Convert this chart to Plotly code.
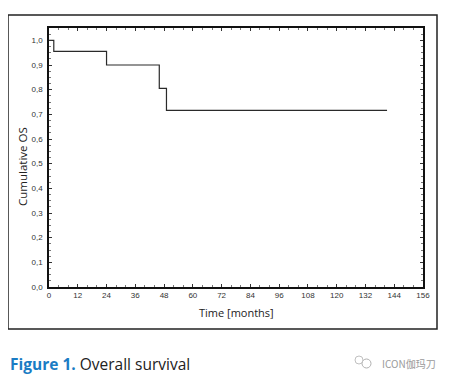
import plotly.graph_objects as go

# Kaplan-Meier step data
time_months = [0, 2, 24, 46, 49, 141]
cumulative_os = [1.0, 0.955, 0.9, 0.805, 0.716, 0.716]

x_ticks = [0, 12, 24, 36, 48, 60, 72, 84, 96, 108, 120, 132, 144, 156]
y_ticks = [0.0, 0.1, 0.2, 0.3, 0.4, 0.5, 0.6, 0.7, 0.8, 0.9, 1.0]

# page body has an 8px margin, so lay out in shifted coordinates
OFF = 8
W, H = 451 - OFF, 382 - OFF
L, T = 49 - OFF, 28 - OFF
R, B = W - (423 - OFF), H - (287 - OFF)
pw, ph = W - L - R, H - T - B

def px(x):
    return (x - OFF - L) / pw

def py(y):
    return (H - B - (y - OFF)) / ph

fig = go.Figure()
fig.add_trace(go.Scatter(
    x=time_months, y=cumulative_os, mode="lines",
    line=dict(shape="hv", color="#2a2a2a", width=1.2),
    showlegend=False, hoverinfo="skip"))

tickfont = dict(family="Liberation Sans, Arial", size=8, color="#333333")
fig.update_xaxes(
    range=[0, 156], tickvals=x_ticks, ticktext=[str(v) for v in x_ticks],
    showline=True, linecolor="#111111", linewidth=1.5, mirror="ticks",
    ticks="inside", ticklen=3, tickcolor="#333333", showgrid=False, zeroline=False,
    tickfont=tickfont,
    minor=dict(ticks="inside", ticklen=2, dtick=4, tickcolor="#777777"))
fig.update_yaxes(
    range=[0, 1.05], tickvals=y_ticks, ticktext=[f"{v:.1f}".replace(".", ",") for v in y_ticks],
    showline=True, linecolor="#111111", linewidth=1.5, mirror="ticks",
    ticks="inside", ticklen=3, tickcolor="#333333", showgrid=False, zeroline=False,
    tickfont=tickfont, ticklabelstandoff=3,
    minor=dict(ticks="inside", ticklen=2, dtick=0.025, tickcolor="#777777"))

titlefont = dict(family="Open Sans, Noto Sans", size=11, color="#222222")
annotations = [
    dict(text="Time [months]", x=px(236), y=py(312), xref="paper", yref="paper",
         showarrow=False, font=titlefont, xanchor="center", yanchor="middle"),
    dict(text="Cumulative OS", x=px(22), y=py(167), xref="paper", yref="paper",
         showarrow=False, font=dict(family="Open Sans, Noto Sans", size=11.5, color="#222222"),
         textangle=-90, xanchor="center", yanchor="middle"),
    dict(text="<b><span style='color:#1a7cc4'>Figure 1.</span></b> Overall survival",
         x=px(8), y=py(364), xref="paper", yref="paper", showarrow=False,
         font=dict(family="Open Sans, Noto Sans", size=15.5, color="#222222"),
         xanchor="left", yanchor="middle"),
    dict(text="ICON伽玛刀", x=px(438), y=py(363), xref="paper", yref="paper", showarrow=False,
         font=dict(family="Noto Sans CJK SC", size=10, color="#9a9a9a"),
         xanchor="right", yanchor="middle"),
]

shapes = [
    dict(type="rect", xref="paper", yref="paper",
         x0=px(8), x1=px(437), y0=py(329), y1=py(15),
         line=dict(color="#222222", width=1.5), layer="below"),
    dict(type="circle", xref="paper", yref="paper",
         x0=px(362), x1=px(371), y0=py(368), y1=py(359),
         line=dict(color="#b0b0b0", width=1)),
    dict(type="circle", xref="paper", yref="paper",
         x0=px(355), x1=px(363), y0=py(364), y1=py(356),
         line=dict(color="#c0c0c0", width=1)),
]

fig.update_layout(
    width=W, height=H, autosize=False,
    margin=dict(l=L, r=R, t=T, b=B),
    plot_bgcolor="white", paper_bgcolor="white",
    annotations=annotations, shapes=shapes,
)
fig.write_html("out.html")
